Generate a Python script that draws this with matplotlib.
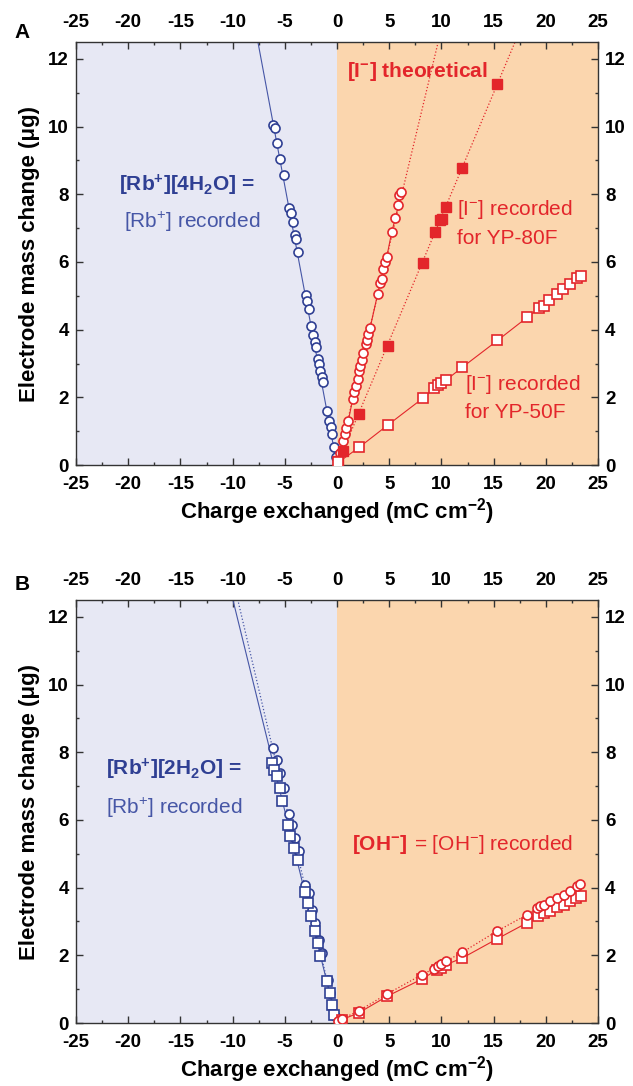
import numpy as np
import matplotlib
matplotlib.use("Agg")
import matplotlib.pyplot as plt
from matplotlib.ticker import MultipleLocator

plt.rcParams['font.family'] = ['Liberation Sans', 'DejaVu Sans']
plt.rcParams['mathtext.fontset'] = 'custom'
plt.rcParams['mathtext.rm'] = 'Liberation Sans'
plt.rcParams['mathtext.bf'] = 'Liberation Sans:bold'
plt.rcParams['mathtext.it'] = 'Liberation Sans:italic'
plt.rcParams['axes.unicode_minus'] = False

# ---------------- data: panel A ----------------
A_rb_x = [-6.10, -5.94, -5.72, -5.46, -5.08, -4.60, -4.44, -4.25, -4.03, -3.96, -3.71, -2.97, -2.91,
          -2.72, -2.49, -2.27, -2.11, -2.01, -1.85, -1.73, -1.63, -1.47, -1.31, -0.93, -0.80, -0.61,
          -0.48, -0.29, -0.10]
A_rb_y = [10.04, 9.96, 9.52, 9.03, 8.56, 7.60, 7.45, 7.18, 6.79, 6.69, 6.29, 5.03, 4.86,
          4.62, 4.12, 3.83, 3.63, 3.48, 3.14, 2.99, 2.79, 2.59, 2.45, 1.61, 1.31, 1.11,
          0.92, 0.52, 0.23]
A_rb_slope = -1.65

A_i80_x = [0.30, 0.61, 0.77, 0.86, 1.09, 1.50, 1.63, 1.82, 1.98, 2.14, 2.20, 2.36, 2.52, 2.78,
           2.84, 3.00, 3.16, 3.90, 4.12, 4.28, 4.44, 4.63, 4.76, 5.24, 5.59, 5.88, 5.97, 6.13]
A_i80_y = [0.35, 0.72, 0.92, 1.08, 1.31, 1.95, 2.15, 2.35, 2.54, 2.79, 2.94, 3.09, 3.31, 3.58,
           3.68, 3.88, 4.04, 5.06, 5.38, 5.50, 5.78, 6.00, 6.14, 6.88, 7.30, 7.67, 7.97, 8.07]
A_i80_slope = 1.29

A_ith_x = [0.05, 0.61, 2.11, 4.86, 8.21, 9.42, 9.87, 10.03, 10.45, 12.01, 15.37]
A_ith_y = [0.12, 0.42, 1.51, 3.53, 5.97, 6.88, 7.23, 7.28, 7.62, 8.78, 11.27]
A_ith_slope = 0.733

A_i50_x = [0.13, 2.11, 4.86, 8.21, 9.33, 9.71, 9.97, 10.45, 12.01, 15.37, 18.24, 19.39, 19.78,
           20.35, 21.05, 21.69, 22.33, 22.97, 23.35]
A_i50_y = [0.08, 0.52, 1.18, 1.97, 2.27, 2.37, 2.42, 2.51, 2.89, 3.68, 4.37, 4.64, 4.71,
           4.89, 5.06, 5.21, 5.36, 5.52, 5.60]

# ---------------- data: panel B ----------------
B_rbc_x = [-6.13, -5.75, -5.50, -5.11, -4.63, -4.31, -3.99, -3.67, -3.04, -2.72, -2.40, -2.08,
           -1.76, -1.44, -0.89, -0.64, -0.16]
B_rbc_y = [8.13, 7.78, 7.39, 6.95, 6.19, 5.86, 5.47, 5.07, 4.09, 3.84, 3.35, 2.96,
           2.46, 2.07, 1.28, 0.89, 0.20]
B_rbc_slope = -1.316

B_rbs_x = [-6.23, -6.07, -5.75, -5.50, -5.27, -4.73, -4.47, -4.15, -3.77, -3.04, -2.78, -2.46,
           -2.14, -1.85, -1.60, -0.96, -0.70, -0.48, -0.26]
B_rbs_y = [7.68, 7.49, 7.29, 6.95, 6.55, 5.86, 5.54, 5.17, 4.81, 3.86, 3.55, 3.15,
           2.71, 2.36, 1.97, 1.23, 0.89, 0.54, 0.25]
B_rbs_slope = -1.254

B_ohc_x = [0.05, 0.48, 2.08, 4.80, 8.15, 9.30, 9.65, 10.0, 10.4, 12.0, 15.3, 18.2, 19.2, 19.4,
           19.8, 20.4, 21.1, 21.7, 22.3, 23.0, 23.32]
B_ohc_y = [0.05, 0.12, 0.36, 0.86, 1.43, 1.61, 1.67, 1.74, 1.82, 2.09, 2.71, 3.20, 3.40, 3.45,
           3.50, 3.60, 3.69, 3.79, 3.89, 4.04, 4.12]

B_ohs_x = [0.48, 2.08, 4.80, 8.15, 9.6, 10.0, 10.4, 12.0, 15.3, 18.2, 19.3, 19.8, 20.4, 21.1,
           21.7, 22.3, 22.9, 23.4]
B_ohs_y = [0.10, 0.30, 0.79, 1.30, 1.58, 1.63, 1.72, 1.92, 2.48, 2.96, 3.15, 3.25, 3.32, 3.42,
           3.50, 3.60, 3.69, 3.74]

x_ticks = [-25, -20, -15, -10, -5, 0, 5, 10, 15, 20, 25]
y_ticks = [0, 2, 4, 6, 8, 10, 12]

# ---------------- styles ----------------
BLUE = '#2f3f93'
BLUE_T = '#4656a6'
RED = '#e3262b'
LAV = '#e7e8f4'
PEACH = '#fbd6ae'
TICK_FS = 13.5
LABEL_FS = 16
ANN_FS = 15

fig = plt.figure(figsize=(6.33, 10.86), dpi=100)
axA = fig.add_axes([0.1201, 0.5718, 0.8246, 0.3895])
axB = fig.add_axes([0.1201, 0.0580, 0.8246, 0.3895])


def style(ax):
    ax.set_xlim(-25, 25)
    ax.set_ylim(0, 12.5)
    ax.axvspan(-25, 0, color=LAV, zorder=0, lw=0)
    ax.axvspan(0, 25, color=PEACH, zorder=0, lw=0)
    ax.set_xticks(x_ticks)
    ax.set_yticks(y_ticks)
    ax.xaxis.set_minor_locator(MultipleLocator(2.5))
    ax.yaxis.set_minor_locator(MultipleLocator(1))
    ax.tick_params(which='both', direction='in', top=True, right=True,
                   labeltop=True, labelright=True, width=1.0, color='#333333')
    ax.tick_params(which='major', length=5, labelsize=TICK_FS)
    ax.tick_params(axis='x', which='major', pad=8)
    ax.tick_params(axis='y', which='major', pad=5)
    ax.tick_params(which='minor', length=2.5)
    for lab in ax.get_xticklabels() + ax.get_yticklabels():
        lab.set_fontweight('bold')
    for sp in ax.spines.values():
        sp.set_linewidth(1.0)
        sp.set_color('#333333')
    ax.set_xlabel('Charge exchanged (mC cm$^{\\mathbf{-2}}$)', fontsize=LABEL_FS,
                  fontweight='bold', labelpad=2)
    ax.set_ylabel('Electrode mass change (\u03bcg)', fontsize=LABEL_FS,
                  fontweight='bold', labelpad=6)


style(axA)
style(axB)

mk_open = dict(markerfacecolor='white', markeredgewidth=1.2, markersize=6.5)

# ---------- panel A ----------
xl = np.array([0, -25])
axA.plot(xl, A_rb_slope * xl, color=BLUE_T, lw=0.8, zorder=2)
axA.plot(A_rb_x, A_rb_y, 'o', color=BLUE, markeredgecolor=BLUE, zorder=3, **mk_open)

xr = np.array([0, 25])
axA.plot(xr, A_i80_slope * xr, ':', color=RED, lw=0.9, zorder=2)
axA.plot(A_i80_x, A_i80_y, '-', color=RED, lw=0.8, zorder=2)
axA.plot(A_i80_x, A_i80_y, 'o', color=RED, markeredgecolor=RED, zorder=3, ls='none', **mk_open)

axA.plot(xr, A_ith_slope * xr, ':', color=RED, lw=0.9, zorder=2)
axA.plot(A_ith_x, A_ith_y, 's', color=RED, markersize=6.5, ls='none', zorder=3)

axA.plot(A_i50_x, A_i50_y, '-', color=RED, lw=0.8, zorder=2)
axA.plot(A_i50_x, A_i50_y, 's', color=RED, markeredgecolor=RED, ls='none', zorder=3, **mk_open)

axA.text(-14.4, 8.26, '[Rb$^{\\mathbf{+}}$][4H$_{\\mathbf{2}}$O] =', color=BLUE, fontsize=ANN_FS,
         fontweight='bold', ha='center', va='center')
axA.text(-13.9, 7.18, '[Rb$^{+}$] recorded', color=BLUE_T, fontsize=ANN_FS,
         ha='center', va='center')
axA.text(1.0, 11.62, '[I$^{\\mathbf{-}}$] theoretical', color=RED, fontsize=ANN_FS,
         fontweight='bold', ha='left', va='center')
axA.text(11.5, 7.55, '[I$^{-}$] recorded', color=RED, fontsize=ANN_FS, ha='left', va='center')
axA.text(11.5, 6.70, 'for YP-80F', color=RED, fontsize=ANN_FS, ha='left', va='center')
axA.text(12.3, 2.37, '[I$^{-}$] recorded', color=RED, fontsize=ANN_FS, ha='left', va='center')
axA.text(12.3, 1.56, 'for YP-50F', color=RED, fontsize=ANN_FS, ha='left', va='center')

# ---------- panel B ----------
axB.plot(xl, B_rbs_slope * xl, '-', color=BLUE_T, lw=0.8, zorder=2)
axB.plot(xl, B_rbc_slope * xl, ':', color=BLUE_T, lw=0.9, zorder=2)
axB.plot(B_rbc_x, B_rbc_y, 'o', color=BLUE, markeredgecolor=BLUE, ls='none', zorder=3, **mk_open)
axB.plot(B_rbs_x, B_rbs_y, 's', color=BLUE, markeredgecolor=BLUE, ls='none', zorder=3, **mk_open)

axB.plot(B_ohc_x, B_ohc_y, ':', color=RED, lw=0.9, zorder=2)
axB.plot(B_ohs_x, B_ohs_y, '-', color=RED, lw=0.8, zorder=2)
axB.plot(B_ohs_x, B_ohs_y, 's', color=RED, markeredgecolor=RED, ls='none', zorder=3, **mk_open)
axB.plot(B_ohc_x, B_ohc_y, 'o', color=RED, markeredgecolor=RED, ls='none', zorder=3, **mk_open)

axB.text(-22.1, 7.49, '[Rb$^{\\mathbf{+}}$][2H$_{\\mathbf{2}}$O] =', color=BLUE, fontsize=ANN_FS,
         fontweight='bold', ha='left', va='center')
axB.text(-22.1, 6.35, '[Rb$^{+}$] recorded', color=BLUE_T, fontsize=ANN_FS,
         ha='left', va='center')
axB.text(1.4, 5.27, '[OH$^{\\mathbf{-}}$]', color=RED, fontsize=ANN_FS, fontweight='bold',
         ha='left', va='center')
axB.text(7.4, 5.27, '= [OH$^{-}$] recorded', color=RED, fontsize=ANN_FS,
         ha='left', va='center')

fig.text(22 / 633, 1 - 32 / 1086, 'A', fontsize=15, fontweight='bold', ha='center', va='center')
fig.text(22 / 633, 1 - 585 / 1086, 'B', fontsize=15, fontweight='bold', ha='center', va='center')

fig.savefig('out.png', dpi=100)
